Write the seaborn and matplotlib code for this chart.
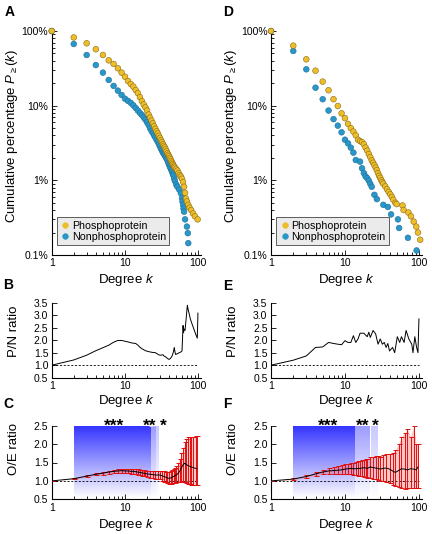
import numpy as np
import pandas as pd
import matplotlib
matplotlib.use("Agg")
import matplotlib.pyplot as plt
from matplotlib.ticker import NullFormatter
from matplotlib.colors import to_rgb
import seaborn as sns

# ============================================================
# STYLE
# ============================================================

sns.set_style("ticks", {
    "axes.edgecolor": "black",
    "xtick.color": "black",
    "ytick.color": "black",
    "text.color": "black",
    "axes.labelcolor": "black",
})
plt.rcParams["font.family"] = ["Liberation Sans", "DejaVu Sans"]
plt.rcParams["mathtext.fontset"] = "custom"
plt.rcParams["mathtext.rm"] = "Liberation Sans"
plt.rcParams["mathtext.it"] = "Liberation Sans:italic"
plt.rcParams["mathtext.fallback"] = "stixsans"

PHOS_COLOR = "#EDBE2A"
NON_COLOR = "#2A97C9"
ERR_COLOR = "#E01010"
SHADE_BLUE = "#2020FF"

# ============================================================
# DATA - PANEL A (cumulative %, first dataset)
# ============================================================

a_phos_k = [1, 2, 3, 4, 5, 6, 7, 8, 9, 10, 11, 12, 13, 14, 15, 16, 17, 18, 19, 20,
            21, 22, 23, 24, 25, 26, 27, 28, 29, 30, 31, 32, 33, 34, 35, 36, 37, 38,
            39, 40, 41, 42, 43, 44, 45, 46, 47, 48, 50, 52, 54, 56, 58, 60, 62, 64,
            66, 68, 70, 73, 76, 80, 85, 90, 98]
a_phos_pct = [100, 82, 68.5, 57, 47.7, 40.5, 36.2, 31.7, 27.7, 24.4, 21.4, 19.5, 18.0,
              16.2, 14.7, 13.0, 11.5, 10.4, 9.5, 8.6, 7.6, 6.9, 6.3, 5.8, 5.3, 4.9,
              4.55, 4.25, 3.95, 3.7, 3.45, 3.25, 3.05, 2.9, 2.75, 2.6, 2.45, 2.3, 2.2,
              2.1, 2.0, 1.9, 1.8, 1.72, 1.65, 1.58, 1.52, 1.48, 1.42, 1.35, 1.25, 1.17,
              1.12, 1.05, 0.95, 0.82, 0.68, 0.57, 0.52, 0.47, 0.43, 0.40, 0.36, 0.33,
              0.30]

a_non_k = [1, 2, 3, 4, 5, 6, 7, 8, 9, 10, 11, 12, 13, 14, 15, 16, 17, 18, 19, 20,
           21, 22, 23, 24, 25, 26, 27, 28, 29, 30, 31, 32, 33, 34, 35, 36, 37, 38,
           39, 40, 41, 42, 43, 44, 45, 46, 47, 48, 50, 52, 55, 58, 60, 61, 62, 63,
           64, 66, 70, 72, 73]
a_non_pct = [100, 67, 47.7, 35, 27.7, 22.1, 18.4, 15.9, 13.9, 12.4, 11.6, 10.9, 10.1,
             9.3, 8.6, 8.0, 7.5, 7.0, 6.5, 6.0, 5.5, 5.0, 4.6, 4.3, 4.0, 3.75, 3.5,
             3.3, 3.05, 2.85, 2.65, 2.5, 2.35, 2.25, 2.15, 2.05, 1.95, 1.85, 1.72,
             1.62, 1.53, 1.45, 1.37, 1.3, 1.22, 1.15, 1.05, 0.98, 0.88, 0.82, 0.75,
             0.67, 0.58, 0.52, 0.47, 0.42, 0.38, 0.30, 0.24, 0.196, 0.144]

# ============================================================
# DATA - PANEL D (cumulative %, second dataset)
# ============================================================

d_phos_k = [1, 2, 3, 4, 5, 6, 7, 8, 9, 10, 11, 12, 13, 14, 15, 16, 17, 18, 19, 20,
            21, 22, 23, 24, 25, 26, 27, 28, 29, 30, 31, 32, 33, 35, 37, 39, 41, 43,
            45, 48, 50, 60, 62, 72, 78, 85, 92, 97, 104]
d_phos_pct = [100, 63.6, 41.8, 29.4, 21, 16.1, 12.2, 9.9, 7.9, 6.8, 5.7, 5.0, 4.5,
              4.0, 3.5, 3.35, 3.25, 3.05, 2.75, 2.5, 2.25, 2.05, 1.85, 1.72, 1.6,
              1.48, 1.37, 1.25, 1.15, 1.08, 1.0, 0.95, 0.9, 0.83, 0.76, 0.7, 0.65,
              0.6, 0.55, 0.5, 0.48, 0.46, 0.4, 0.37, 0.33, 0.28, 0.24, 0.2, 0.16]

d_non_k = [1, 2, 3, 4, 5, 6, 7, 8, 9, 10, 11, 12, 13, 14, 16, 17, 18, 19, 20, 21,
           22, 23, 25, 27, 33, 38, 42, 52, 54, 71, 93]
d_non_pct = [100, 54, 30.7, 17.4, 12.2, 8.6, 6.6, 5.4, 4.4, 3.5, 3.13, 2.74, 2.35,
             1.87, 1.78, 1.45, 1.25, 1.13, 1.07, 0.99, 0.9, 0.82, 0.64, 0.56, 0.47,
             0.44, 0.35, 0.30, 0.23, 0.17, 0.115]

pct_ticks = [0.1, 1, 10, 100]
pct_tick_labels = ["0.1%", "1%", "10%", "100%"]
deg_ticks = [1, 10, 100]
deg_tick_labels = ["1", "10", "100"]

# ============================================================
# DATA - PANELS B / E (P/N ratio)
# ============================================================

b_k = [1, 2, 3, 4, 5, 6, 7, 8, 9, 10, 11, 12, 13, 14, 15, 16, 17, 18, 19, 20, 22,
       24, 26, 27, 29, 31, 33, 34, 36, 38, 40, 42, 44, 46, 47, 48, 49, 52, 55, 58,
       60, 62, 63, 64, 66, 68, 71, 73, 75, 78, 82, 87, 92, 97, 99]
b_ratio = [1.0, 1.21, 1.40, 1.58, 1.70, 1.80, 1.92, 1.99, 1.99, 1.96, 1.93, 1.90,
           1.88, 1.87, 1.80, 1.72, 1.66, 1.62, 1.58, 1.56, 1.53, 1.51, 1.50, 1.47,
           1.41, 1.40, 1.42, 1.37, 1.33, 1.27, 1.23, 1.28, 1.37, 1.55, 1.71, 1.55,
           1.43, 1.46, 1.50, 1.53, 1.57, 2.59, 2.30, 2.45, 2.39, 2.80, 3.40, 3.20,
           3.07, 2.85, 2.66, 2.45, 2.25, 2.08, 3.09]

e_k = [1, 2, 3, 4, 5, 6, 7, 8, 9, 10, 11, 12, 13, 14, 15, 16, 18, 20, 21, 22, 24,
       26, 28, 30, 32, 34, 36, 38, 40, 44, 47, 51, 55, 58, 63, 67, 73, 80, 83, 88,
       93, 97, 100]
e_ratio = [1.0, 1.2, 1.37, 1.71, 1.73, 1.91, 1.87, 1.84, 1.82, 1.98, 1.91, 1.91,
           2.18, 1.91, 2.05, 2.28, 2.28, 2.14, 2.32, 2.11, 2.39, 2.25, 1.84, 2.05,
           1.84, 1.91, 1.71, 1.87, 1.57, 1.71, 1.5, 2.14, 1.91, 2.14, 1.91, 2.39,
           2.05, 1.84, 1.5, 2.14, 1.71, 1.5, 2.86]

ratio_ticks = [0.5, 1.0, 1.5, 2.0, 2.5, 3.0, 3.5]

# ============================================================
# DATA - PANELS C / F (O/E ratio with error bars)
# ============================================================

c_k = [1, 2, 3, 4, 5, 6, 7, 8, 9, 10, 11, 12, 13, 14, 15, 16, 17, 18, 19, 20, 22,
       24, 26, 28, 30, 32, 34, 36, 38, 40, 42, 44, 46, 48, 50, 53, 56, 59, 62, 65,
       68, 72, 76, 80, 86, 92, 96]
c_mean = [1.0, 1.06, 1.13, 1.18, 1.21, 1.24, 1.26, 1.27, 1.28, 1.27, 1.27, 1.26,
          1.26, 1.25, 1.24, 1.23, 1.22, 1.21, 1.20, 1.19, 1.18, 1.17, 1.16, 1.16,
          1.16, 1.14, 1.12, 1.10, 1.08, 1.07, 1.08, 1.10, 1.12, 1.14, 1.16, 1.20,
          1.27, 1.36, 1.44, 1.48, 1.45, 1.42, 1.40, 1.38, 1.36, 1.34, 1.33]
c_low = [1.0, 1.05, 1.11, 1.15, 1.17, 1.20, 1.21, 1.22, 1.22, 1.21, 1.21, 1.20,
         1.19, 1.18, 1.17, 1.16, 1.14, 1.13, 1.12, 1.11, 1.09, 1.07, 1.06, 1.05,
         1.04, 1.01, 0.98, 0.96, 0.94, 0.92, 0.92, 0.93, 0.94, 0.95, 0.96, 0.97,
         0.98, 0.99, 0.98, 0.96, 0.94, 0.92, 0.91, 0.90, 0.90, 0.90, 0.89]
c_high = [1.0, 1.08, 1.15, 1.21, 1.25, 1.28, 1.30, 1.31, 1.32, 1.32, 1.32, 1.32,
          1.32, 1.32, 1.31, 1.30, 1.29, 1.29, 1.28, 1.28, 1.27, 1.26, 1.26, 1.27,
          1.28, 1.27, 1.26, 1.25, 1.24, 1.24, 1.26, 1.30, 1.33, 1.36, 1.40, 1.48,
          1.60, 1.75, 1.90, 2.05, 2.15, 2.18, 2.18, 2.20, 2.20, 2.22, 2.23]

f_k = [1, 2, 3, 4, 5, 6, 7, 8, 9, 10, 11, 12, 13, 14, 15, 16, 17, 18, 19, 20, 22,
       24, 26, 28, 30, 33, 36, 40, 44, 48, 53, 58, 64, 70, 77, 85, 92, 97]
f_mean = [1.0, 1.05, 1.12, 1.19, 1.24, 1.27, 1.28, 1.29, 1.30, 1.32, 1.33, 1.34,
          1.33, 1.33, 1.34, 1.34, 1.35, 1.36, 1.35, 1.34, 1.38, 1.36, 1.35, 1.34,
          1.32, 1.34, 1.35, 1.32, 1.27, 1.23, 1.28, 1.33, 1.32, 1.30, 1.33, 1.32,
          1.30, 1.38]
f_low = [1.0, 1.03, 1.09, 1.14, 1.18, 1.20, 1.20, 1.20, 1.20, 1.19, 1.19, 1.18,
         1.17, 1.15, 1.14, 1.13, 1.12, 1.11, 1.10, 1.09, 1.08, 1.06, 1.05, 1.03,
         1.01, 1.00, 0.98, 0.95, 0.90, 0.86, 0.84, 0.80, 0.78, 0.80, 0.80, 0.80,
         0.80, 0.80]
f_high = [1.0, 1.07, 1.15, 1.24, 1.30, 1.34, 1.37, 1.40, 1.42, 1.45, 1.47, 1.49,
          1.50, 1.52, 1.53, 1.55, 1.57, 1.58, 1.60, 1.60, 1.64, 1.66, 1.68, 1.68,
          1.66, 1.70, 1.72, 1.74, 1.76, 1.85, 2.00, 2.20, 2.30, 2.42, 2.20, 2.50,
          2.00, 2.00]

oe_ticks = [0.5, 1.0, 1.5, 2.0, 2.5]

# significance bands: k from 2 up to each edge (***, **, *)
c_sig_edges = [2, 22.6, 26.5, 29.3]
f_sig_edges = [2, 13.8, 22.4, 28.2]
sig_labels = ["***", "**", "*"]
sig_alpha = [0.92, 0.45, 0.25]
c_star_k = [7.2, 21.8, 33.7]
f_star_k = [5.9, 17.4, 25.7]

# ============================================================
# FIGURE / AXES LAYOUT (pixel based)
# ============================================================

W, H = 432, 534
fig = plt.figure(figsize=(W / 100, H / 100), dpi=100)


def add_axes(x0, x1, y_top, y_bot):
    return fig.add_axes([x0 / W, 1 - y_bot / H, (x1 - x0) / W, (y_bot - y_top) / H])


ax_a = add_axes(51.7, 201.3, 31, 255)
ax_b = add_axes(51.7, 201.3, 302.7, 377.7)
ax_c = add_axes(51.7, 201.3, 425.7, 499.3)
ax_d = add_axes(271, 422, 31, 255)
ax_e = add_axes(271, 422, 302.7, 377.7)
ax_f = add_axes(271, 422, 425.7, 499.3)


def style_axis(ax, x_label_drop, y_label_pos):
    ax.set_xscale("log")
    ax.set_xlim(1, 110)
    sns.despine(ax=ax)
    for s in ax.spines.values():
        s.set_linewidth(0.8)
    ax.tick_params(which="both", direction="in", width=0.6, labelsize=7.5, pad=2.5)
    ax.tick_params(which="major", length=3.5)
    ax.tick_params(which="minor", length=2)
    ax.set_xticks(deg_ticks)
    ax.set_xticklabels(deg_tick_labels)
    ax.xaxis.set_minor_formatter(NullFormatter())
    ax.set_xlabel("Degree $k$", fontsize=9.5)
    h_px = ax.get_position().height * H
    ax.xaxis.set_label_coords(0.5, -x_label_drop / h_px)
    ax.yaxis.set_label_coords(-0.215, y_label_pos)


# ============================================================
# PANELS A / D - CUMULATIVE DISTRIBUTIONS
# ============================================================

def cumulative_panel(ax, phos_k, phos_pct, non_k, non_pct):
    df = pd.concat([
        pd.DataFrame({"k": non_k, "pct": non_pct, "type": "Nonphosphoprotein"}),
        pd.DataFrame({"k": phos_k, "pct": phos_pct, "type": "Phosphoprotein"}),
    ])
    sns.scatterplot(
        data=df, x="k", y="pct", hue="type",
        hue_order=["Phosphoprotein", "Nonphosphoprotein"],
        palette={"Phosphoprotein": PHOS_COLOR, "Nonphosphoprotein": NON_COLOR},
        s=17, linewidth=0.4, edgecolor=None, ax=ax, clip_on=False, zorder=3,
    )
    coll = ax.collections[0]
    edge = [("#8C6A10" if t == "Phosphoprotein" else "#1C6E98") for t in df["type"]]
    coll.set_edgecolors(edge)
    ax.set_yscale("log")
    ax.set_ylim(0.1, 100)
    ax.set_yticks(pct_ticks)
    ax.set_yticklabels(pct_tick_labels)
    ax.yaxis.set_minor_formatter(NullFormatter())
    ax.set_ylabel(r"Cumulative percentage $P_{\geq}(k)$", fontsize=9.5)
    handles, labels = ax.get_legend_handles_labels()
    ax.legend(
        handles, labels, loc="upper left", bbox_to_anchor=(0.035, 0.168),
        fontsize=7.7, frameon=True, fancybox=False, facecolor="#EBEBEB",
        edgecolor="#444444", framealpha=1, handletextpad=0.1, borderpad=0.3,
        labelspacing=0.15, handlelength=1.0, borderaxespad=0, markerscale=1.0,
    ).get_frame().set_linewidth(0.6)
    style_axis(ax, 17, 0.53)


cumulative_panel(ax_a, a_phos_k, a_phos_pct, a_non_k, a_non_pct)
cumulative_panel(ax_d, d_phos_k, d_phos_pct, d_non_k, d_non_pct)

# ============================================================
# PANELS B / E - P/N RATIO
# ============================================================

def ratio_panel(ax, k, ratio):
    ax.hlines(1.0, 1, 100, colors="black", linestyles=(0, (2.5, 2)), linewidth=0.6)
    sns.lineplot(x=k, y=ratio, color="black", linewidth=0.7, ax=ax)
    ax.set_ylim(0.5, 3.5)
    ax.set_yticks(ratio_ticks)
    ax.set_yticklabels([f"{t:.1f}" for t in ratio_ticks])
    ax.set_ylabel("P/N ratio", fontsize=9.5)
    style_axis(ax, 15.5, 0.62)


ratio_panel(ax_b, b_k, b_ratio)
ratio_panel(ax_e, e_k, e_ratio)

# ============================================================
# PANELS C / F - O/E RATIO
# ============================================================

def shade_band(ax, k_from, k_to, top_alpha):
    grad = np.zeros((64, 2, 4))
    grad[..., :3] = to_rgb(SHADE_BLUE)
    grad[..., 3] = np.linspace(top_alpha, 0.0, 64)[:, None]
    ax.imshow(grad, extent=(k_from, k_to, 0.5, 2.5), origin="upper",
              aspect="auto", interpolation="bilinear", zorder=0)


def oe_panel(ax, k, mean, low, high, edges, star_k, connect):
    ax.set_xscale("log")
    for i in range(3):
        shade_band(ax, edges[i], edges[i + 1], sig_alpha[i])
    ax.fill_between(k, low, high, color="#FF5A5A", alpha=0.35, linewidth=0, zorder=1)
    ax.hlines(1.0, 1, 100, colors="black", linestyles=(0, (2.5, 2)), linewidth=0.6,
              zorder=2)
    yerr = [np.array(mean) - np.array(low), np.array(high) - np.array(mean)]
    ax.errorbar(k, mean, yerr=yerr, fmt="none", ecolor=ERR_COLOR, elinewidth=0.7,
                capsize=1.8, capthick=0.7, zorder=3)
    sns.lineplot(x=k, y=mean, color="black", linewidth=0.7, ax=ax, zorder=4)
    ax.set_ylim(0.5, 2.5)
    ax.set_yticks(oe_ticks)
    ax.set_yticklabels([f"{t:.1f}" for t in oe_ticks])
    ax.set_ylabel("O/E ratio", fontsize=9.5)
    style_axis(ax, 17.5, 0.69)

    for i, lab in enumerate(sig_labels):
        if connect and i > 0:
            ax.annotate(lab, xy=(edges[i + 1], 2.5), xytext=(star_k[i], 2.36),
                        ha="center", va="baseline", fontsize=12.5,
                        fontweight="bold", annotation_clip=False,
                        arrowprops=dict(arrowstyle="-", lw=0.6, shrinkA=0, shrinkB=0))
        else:
            ax.text(star_k[i], 2.36, lab, ha="center", va="baseline", fontsize=12.5,
                    fontweight="bold", clip_on=False)


oe_panel(ax_c, c_k, c_mean, c_low, c_high, c_sig_edges, c_star_k, True)
oe_panel(ax_f, f_k, f_mean, f_low, f_high, f_sig_edges, f_star_k, False)

# ============================================================
# PANEL LETTERS
# ============================================================

for letter, x, y in [("A", 5, 5.5), ("B", 3, 278), ("C", 3, 397.5),
                     ("D", 223, 5), ("E", 223, 279), ("F", 223, 397)]:
    fig.text(x / W, 1 - y / H, letter, fontsize=10, fontweight="bold",
             ha="left", va="top")

plt.savefig("out.png", dpi=100)
plt.close()
